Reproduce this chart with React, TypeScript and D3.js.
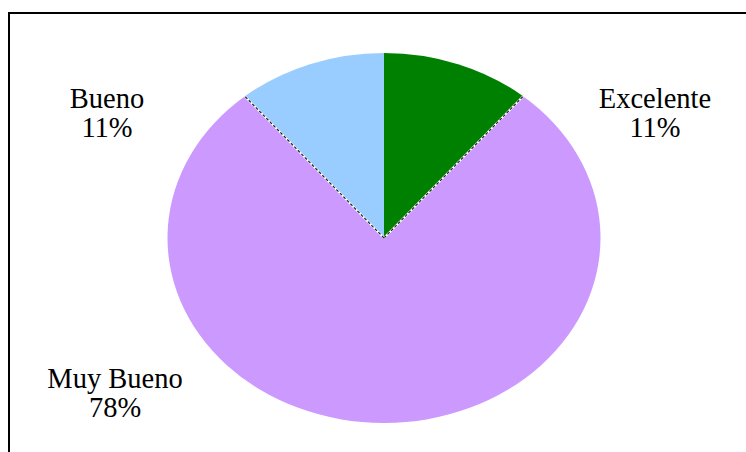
import React, { useEffect, useRef } from 'react';
import * as d3 from 'd3';

const categories = ['Excelente', 'Muy Bueno', 'Bueno'];
const counts = [1, 7, 1];
const percents = ['11%', '78%', '11%'];
const colors = ['#008000', '#CC99FF', '#99CCFF'];

const dims = {
    width: 746,
    height: 452,
    cx: 384,
    cy: 238,
    rx: 216.5,
    ry: 185,
};

// label anchor (center x, first baseline y) per category
const labelPos: any = {
    'Excelente': [655, 108],
    'Muy Bueno': [115, 388],
    'Bueno': [107, 108],
};

const App = () => {
    const container = useRef<SVGSVGElement>(null);

    useEffect(() => {
        if (!container.current) return;
        const svg = d3.select(container.current);
        svg.selectAll('*').remove();

        svg.append('rect')
            .attr('x', 9)
            .attr('y', 13)
            .attr('width', dims.width + 20)
            .attr('height', dims.height + 20)
            .attr('fill', 'none')
            .attr('stroke', '#000')
            .attr('stroke-width', 2);

        const pie = d3.pie<number>().sort(null).value(d => d);
        const arcs = pie(counts);
        const arc = d3.arc<any>().innerRadius(0).outerRadius(dims.ry);

        const g = svg.append('g')
            .attr('transform', `translate(${dims.cx},${dims.cy}) scale(${dims.rx / dims.ry},1)`);

        g.selectAll('path.slice')
            .data(arcs)
            .join('path')
            .attr('class', 'slice')
            .attr('d', arc)
            .attr('fill', (d, i) => colors[i]);

        // dashed edges around the big slice
        const big = arcs[1];
        [big.startAngle, big.endAngle].forEach(a => {
            const x2 = Math.sin(a) * dims.ry;
            const y2 = -Math.cos(a) * dims.ry;
            g.append('line')
                .attr('x1', 0).attr('y1', 0).attr('x2', x2).attr('y2', y2)
                .attr('stroke', '#fff')
                .attr('stroke-width', 2)
                .attr('vector-effect', 'non-scaling-stroke');
            g.append('line')
                .attr('x1', 0).attr('y1', 0).attr('x2', x2).attr('y2', y2)
                .attr('stroke', '#222')
                .attr('stroke-width', 1.2)
                .attr('stroke-dasharray', '3,2')
                .attr('vector-effect', 'non-scaling-stroke');
        });

        const labels = svg.append('g')
            .style('font-family', '"Liberation Serif", "Times New Roman", serif')
            .style('font-size', '28.5px')
            .attr('fill', '#000');

        categories.forEach((c, i) => {
            const [x, y] = labelPos[c];
            const t = labels.append('text').attr('text-anchor', 'middle');
            t.append('tspan').attr('x', x).attr('y', y).text(c);
            t.append('tspan').attr('x', x).attr('y', y + 29).text(percents[i]);
        });
    }, []);

    return (
        <svg
            ref={container}
            width={dims.width}
            height={dims.height}
            style={{ position: 'absolute', left: 0, top: 0, background: '#fff' }}
        />
    );
};

export default App;
